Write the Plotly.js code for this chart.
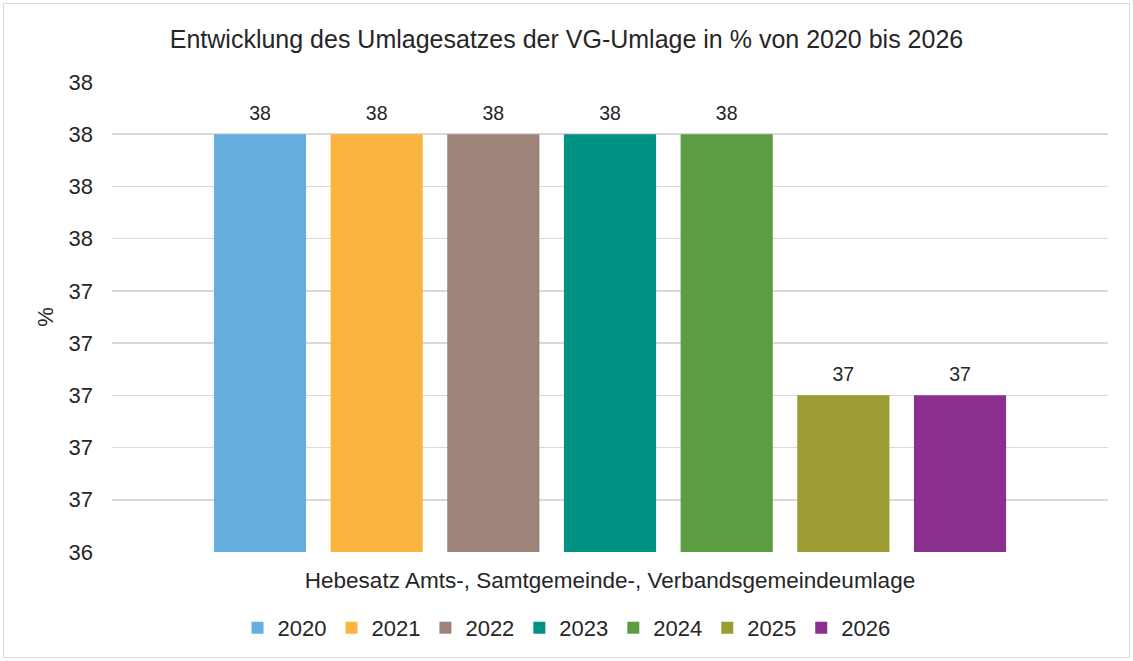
<!DOCTYPE html>
<html>
<head>
<meta charset="utf-8">
<script src="https://cdn.plot.ly/plotly-3.0.1.min.js"></script>
<style>
html,body{margin:0;padding:0;background:#fff;}
#wrap{position:relative;width:1133px;height:661px;}
#chart{position:absolute;left:0;top:0;width:1133px;height:661px;}
#frame{position:absolute;left:3px;top:3px;width:1125px;height:653px;border:1px solid #d9d9d9;pointer-events:none;}
</style>
</head>
<body>
<div id="wrap"><div id="chart"></div><div id="frame"></div></div>
<script>
const category = ["Hebesatz Amts-, Samtgemeinde-, Verbandsgemeindeumlage"];
const years = ["2020", "2021", "2022", "2023", "2024", "2025", "2026"];
const rates = [38, 38, 38, 38, 38, 37, 37];
const colors = ["#65AEDF", "#FBB440", "#9E8378", "#009384", "#5C9D44", "#9C9C35", "#8A2F8E"];

const font = "Liberation Sans, Arial, sans-serif";
const GAP = 0.18;

const bars = years.map((y, i) => ({
  type: "bar",
  name: y,
  x: category,
  y: [rates[i]],
  marker: {color: colors[i]},
  hoverinfo: "name+y"
}));

// value labels, placed through the same grouped scale as the bars
const labels = years.map((y, i) => ({
  type: "scatter",
  mode: "markers+text",
  name: y,
  x: category,
  y: [rates[i]],
  texttemplate: "%{y:.0f}",
  textposition: "top center",
  textfont: {family: font, size: 19.5, color: "#262626"},
  marker: {size: 14, opacity: 0},
  cliponaxis: false,
  showlegend: false,
  hoverinfo: "skip"
}));

const layout = {
  width: 1133, height: 661,
  paper_bgcolor: "#ffffff", plot_bgcolor: "#ffffff",
  margin: {l: 112, r: 25, t: 82, b: 109},
  font: {family: font, color: "#262626"},
  title: {text: "Entwicklung des Umlagesatzes der VG-Umlage in % von 2020 bis 2026",
          font: {family: font, size: 25, color: "#262626"}, x: 0.5, xanchor: "center", y: 0.94, yanchor: "middle"},
  barmode: "group",
  bargap: GAP,
  bargroupgap: 0.21,
  scattermode: "group",
  scattergap: GAP,
  xaxis: {type: "category", showgrid: false, showline: false, zeroline: false,
          tickfont: {family: font, size: 22.5, color: "#262626"}, ticks: "", ticklabelstandoff: 12},
  yaxis: {range: [36.4, 38.2], dtick: 0.2, tick0: 36.4, tickformat: ".0f",
          showgrid: true, gridcolor: "#d9d9d9", gridwidth: 1.5, zeroline: false, showline: false,
          ticks: "", ticklabelstandoff: 18,
          tickfont: {family: font, size: 22, color: "#262626"},
          title: {text: "%", font: {family: font, size: 22, color: "#262626"}, standoff: 8}},
  showlegend: true,
  legend: {orientation: "h", xref: "container", yref: "container", x: 0.5, xanchor: "center",
           y: 0.05, yanchor: "middle", font: {family: font, size: 22, color: "#262626"},
           itemwidth: 30, traceorder: "normal"}
};

Plotly.newPlot("chart", bars.concat(labels), layout, {displayModeBar: false, staticPlot: true});
</script>
</body>
</html>
